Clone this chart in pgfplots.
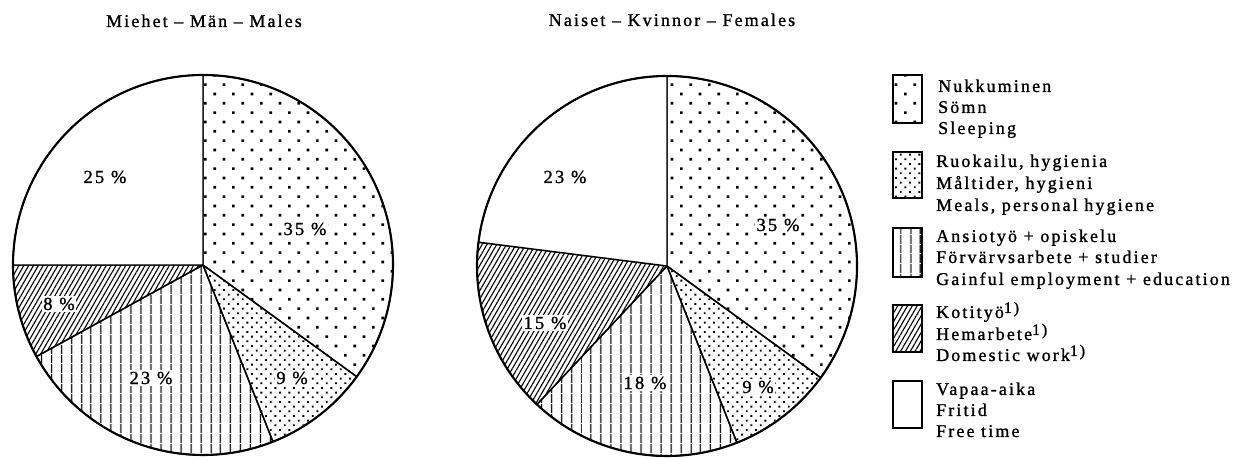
\documentclass[border=0pt]{standalone}
\usepackage{fontspec}
\setmainfont{Liberation Serif}[LetterSpace=12, FakeBold=1.2]
\usepackage{pgfplots}
\pgfplotsset{compat=1.18}
\usetikzlibrary{patterns.meta}

\tikzset{
  sleepP/.style={pattern={Dots[distance=13.2bp, angle=45, radius=1.9bp]}},
  mealsP/.style={pattern={Dots[distance=6.6bp, angle=45, radius=1.3bp]}},
  workP/.style={pattern={Lines[distance=10bp, angle=90, line width=1.4bp]}},
  domP/.style={pattern={Lines[distance=4.2bp, angle=60, line width=1.1bp]}},
  freeP/.style={fill=white},
  txt/.style={font=\fontsize{18}{21}\selectfont, inner sep=0pt},
  pct/.style={font=\fontsize{18.5}{21}\selectfont, fill=white, inner sep=1.5bp},
}
\newcommand\fn{\raisebox{5bp}{\fontsize{16}{16}\selectfont 1)}}

% #1 cx, #2 cy, #3 radius, #4 percentage, #5 style
\newcommand\pieslice[5]{%
  \pgfmathsetmacro\endang{\startang-3.6*#4}%
  \edef\tmp{\noexpand\draw[#5, line width=1.4bp, line join=round] (axis cs:#1,#2) -- +(\startang:#3bp) arc[start angle=\startang, end angle=\endang, radius=#3bp] -- cycle;}%
  \tmp
  \global\let\startang\endang}

\begin{document}
\begin{tikzpicture}
\begin{axis}[x=1bp, y=1bp, xmin=0, xmax=1246, ymin=0, ymax=458, hide axis, clip=true]
\path (axis cs:0,0) rectangle (axis cs:1246,458);

% ---- Males ----
\gdef\startang{90}
\pieslice{203}{193}{190}{35}{sleepP}
\pieslice{203}{193}{190}{9}{mealsP}
\pieslice{203}{193}{190}{23}{workP}
\pieslice{203}{193}{190}{8}{domP}
\pieslice{203}{193}{190}{25}{freeP}
\draw[line width=2.1bp] (axis cs:203,193) circle[radius=190bp];

% ---- Females ----
\gdef\startang{90}
\pieslice{667}{192}{190}{35}{sleepP}
\pieslice{667}{192}{190}{9}{mealsP}
\pieslice{667}{192}{190}{18}{workP}
\pieslice{667}{192}{190}{15}{domP}
\pieslice{667}{192}{190}{23}{freeP}
\draw[line width=2.1bp] (axis cs:667,192) circle[radius=190bp];

% percentage labels
\node[pct] at (axis cs:105,281) {25 \%};
\node[pct] at (axis cs:305,229) {35 \%};
\node[pct] at (axis cs:292,80) {9 \%};
\node[pct] at (axis cs:151,80) {23 \%};
\node[pct] at (axis cs:59,154) {8 \%};
\node[pct] at (axis cs:565,281) {23 \%};
\node[pct] at (axis cs:778,233) {35 \%};
\node[pct] at (axis cs:758,71) {9 \%};
\node[pct] at (axis cs:645,75) {18 \%};
\node[pct] at (axis cs:545,135) {15 \%};

% titles
\node[txt, anchor=base] at (axis cs:204,431) {Miehet – Män – Males};
\node[txt, anchor=base] at (axis cs:672,432) {Naiset – Kvinnor – Females};

% legend
\draw[sleepP, line width=2bp] (axis cs:893,383) rectangle (axis cs:922,335);
\draw[mealsP, line width=2bp] (axis cs:893,306) rectangle (axis cs:922,260);
\draw[workP, line width=2bp] (axis cs:893,230) rectangle (axis cs:922,181);
\draw[domP, line width=2bp] (axis cs:893,153) rectangle (axis cs:922,106);
\draw[freeP, line width=2bp] (axis cs:893,77) rectangle (axis cs:922,30);

\node[txt, anchor=base west] at (axis cs:938,366) {Nukkuminen};
\node[txt, anchor=base west] at (axis cs:938,345) {Sömn};
\node[txt, anchor=base west] at (axis cs:938,324) {Sleeping};
\node[txt, anchor=base west] at (axis cs:936,291) {Ruokailu, hygienia};
\node[txt, anchor=base west] at (axis cs:936,269) {Måltider, hygieni};
\node[txt, anchor=base west] at (axis cs:936,247) {Meals, personal hygiene};
\node[txt, anchor=base west] at (axis cs:936,216) {Ansiotyö + opiskelu};
\node[txt, anchor=base west] at (axis cs:936,195) {Förvärvsarbete + studier};
\node[txt, anchor=base west] at (axis cs:936,173) {Gainful employment + education};
\node[txt, anchor=base west] at (axis cs:936,140) {Kotityö\fn};
\node[txt, anchor=base west] at (axis cs:936,118) {Hemarbete\fn};
\node[txt, anchor=base west] at (axis cs:936,97) {Domestic work\fn};
\node[txt, anchor=base west] at (axis cs:936,63) {Vapaa-aika};
\node[txt, anchor=base west] at (axis cs:936,42) {Fritid};
\node[txt, anchor=base west] at (axis cs:936,21) {Free time};
\end{axis}
\end{tikzpicture}
\end{document}
